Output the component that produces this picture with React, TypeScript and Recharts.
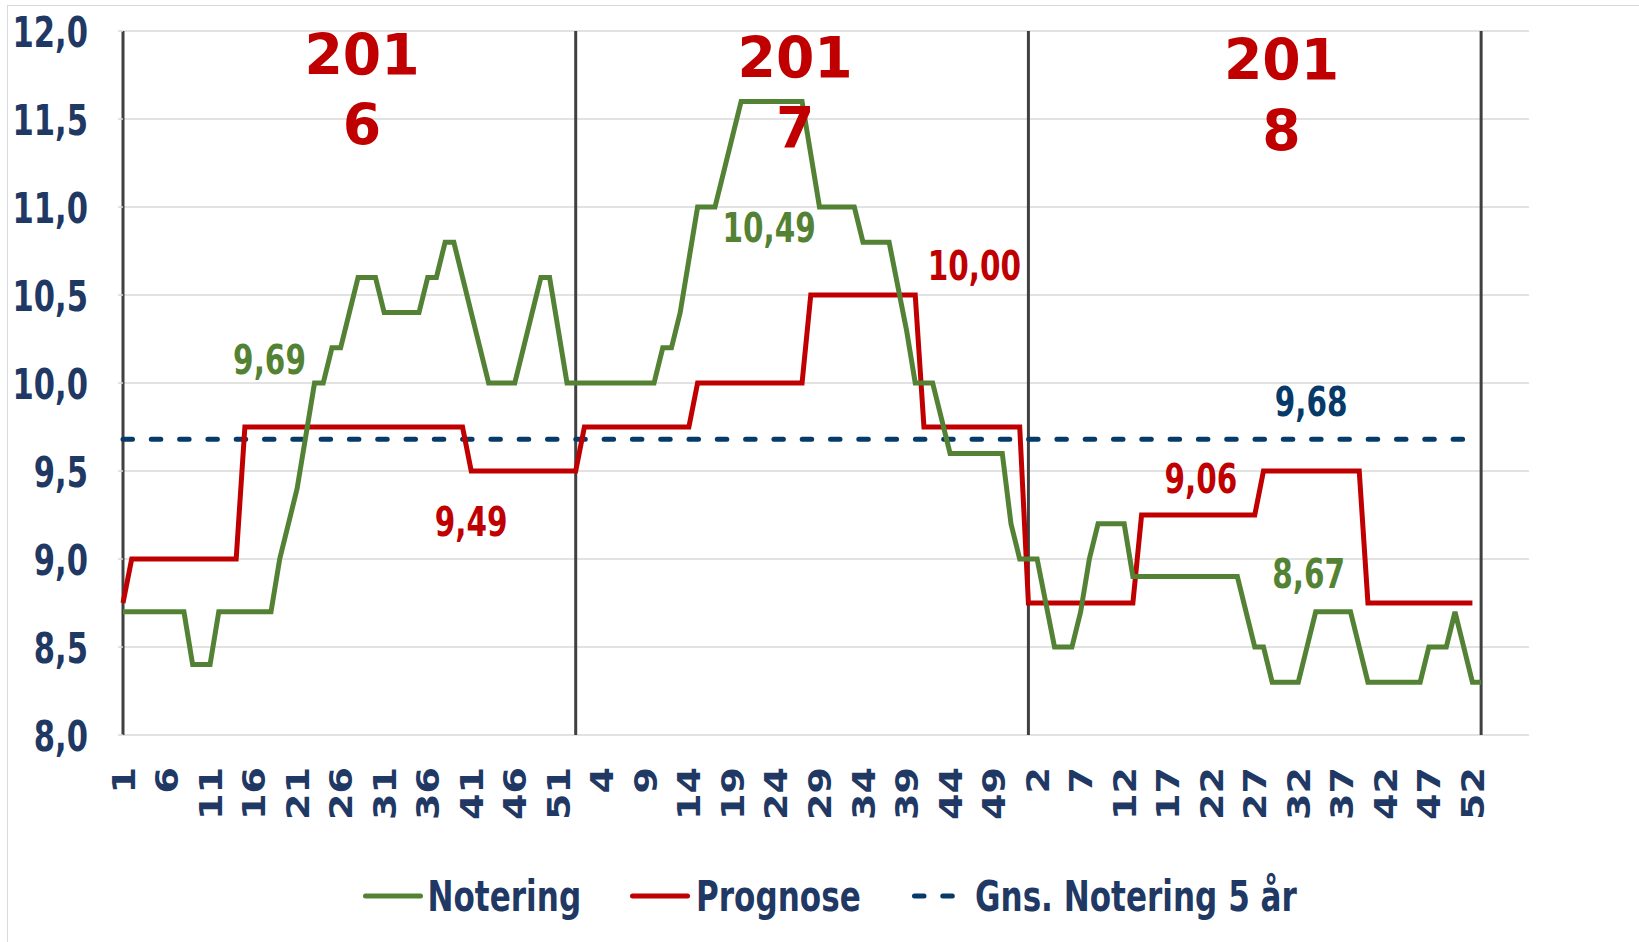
import React from 'react';
import {
  LineChart, Line, XAxis, YAxis, CartesianGrid, ReferenceLine, ReferenceDot, Legend,
} from 'recharts';

// ---- data ----
const notering2016 = [
  8.7, 8.7, 8.7, 8.7, 8.7, 8.7, 8.7, 8.7, 8.4, 8.4, 8.4, 8.7, 8.7, 8.7, 8.7, 8.7, 8.7, 8.7,
  9.0, 9.2, 9.4, 9.7, 10.0, 10.0, 10.2, 10.2, 10.4, 10.6, 10.6, 10.6, 10.4, 10.4, 10.4, 10.4, 10.4,
  10.6, 10.6, 10.8, 10.8, 10.6, 10.4, 10.2, 10.0, 10.0, 10.0, 10.0, 10.2, 10.4, 10.6, 10.6, 10.3, 10.0,
];
const notering2017 = [
  10.0, 10.0, 10.0, 10.0, 10.0, 10.0, 10.0, 10.0, 10.0, 10.0, 10.2, 10.2, 10.4, 10.7, 11.0, 11.0, 11.0,
  11.2, 11.4, 11.6, 11.6, 11.6, 11.6, 11.6, 11.6, 11.6, 11.6, 11.3, 11.0, 11.0, 11.0, 11.0, 11.0,
  10.8, 10.8, 10.8, 10.8, 10.55, 10.3, 10.0, 10.0, 10.0, 9.8, 9.6, 9.6, 9.6, 9.6, 9.6, 9.6, 9.6, 9.2, 9.0,
];
const notering2018 = [
  9.0, 9.0, 8.75, 8.5, 8.5, 8.5, 8.7, 9.0, 9.2, 9.2, 9.2, 9.2,
  8.9, 8.9, 8.9, 8.9, 8.9, 8.9, 8.9, 8.9, 8.9, 8.9, 8.9, 8.9, 8.9,
  8.7, 8.5, 8.5, 8.3, 8.3, 8.3, 8.3, 8.5, 8.7, 8.7, 8.7, 8.7, 8.7, 8.5,
  8.3, 8.3, 8.3, 8.3, 8.3, 8.3, 8.3, 8.5, 8.5, 8.5, 8.7, 8.5, 8.3, 8.3,
];
const prognose2016 = [
  8.75, 9.0, 9.0, 9.0, 9.0, 9.0, 9.0, 9.0, 9.0, 9.0, 9.0, 9.0, 9.0, 9.0,
  9.75, 9.75, 9.75, 9.75, 9.75, 9.75, 9.75, 9.75, 9.75, 9.75, 9.75, 9.75, 9.75,
  9.75, 9.75, 9.75, 9.75, 9.75, 9.75, 9.75, 9.75, 9.75, 9.75, 9.75, 9.75, 9.75,
  9.5, 9.5, 9.5, 9.5, 9.5, 9.5, 9.5, 9.5, 9.5, 9.5, 9.5, 9.5,
];
const prognose2017 = [
  9.5, 9.75, 9.75, 9.75, 9.75, 9.75, 9.75, 9.75, 9.75, 9.75, 9.75, 9.75, 9.75, 9.75,
  10.0, 10.0, 10.0, 10.0, 10.0, 10.0, 10.0, 10.0, 10.0, 10.0, 10.0, 10.0, 10.0,
  10.5, 10.5, 10.5, 10.5, 10.5, 10.5, 10.5, 10.5, 10.5, 10.5, 10.5, 10.5, 10.5,
  9.75, 9.75, 9.75, 9.75, 9.75, 9.75, 9.75, 9.75, 9.75, 9.75, 9.75, 9.75,
];
const prognose2018 = [
  8.75, 8.75, 8.75, 8.75, 8.75, 8.75, 8.75, 8.75, 8.75, 8.75, 8.75, 8.75, 8.75,
  9.25, 9.25, 9.25, 9.25, 9.25, 9.25, 9.25, 9.25, 9.25, 9.25, 9.25, 9.25, 9.25, 9.25,
  9.5, 9.5, 9.5, 9.5, 9.5, 9.5, 9.5, 9.5, 9.5, 9.5, 9.5, 9.5,
  8.75, 8.75, 8.75, 8.75, 8.75, 8.75, 8.75, 8.75, 8.75, 8.75, 8.75, 8.75, 8.75,
];
const gnsNotering5Aar = 9.68;

const weekTickLabels = [
  '1', '6', '11', '16', '21', '26', '31', '36', '41', '46', '51',
  '4', '9', '14', '19', '24', '29', '34', '39', '44', '49',
  '2', '7', '12', '17', '22', '27', '32', '37', '42', '47', '52',
];
const yTicks = [8, 8.5, 9, 9.5, 10, 10.5, 11, 11.5, 12];
const yearBoundaries = [0, 52, 104, 156];
const legendNames = ['Notering', 'Prognose', 'Gns. Notering 5 år'];

const years = [
  { top: '201', bottom: '6', x: 27.46, y1: 11.75, y2: 11.352 },
  { top: '201', bottom: '7', x: 77.2, y1: 11.733, y2: 11.335 },
  { top: '201', bottom: '8', x: 133.08, y1: 11.72, y2: 11.318 },
];

// ---- styles ----
const GREEN = '#548235';
const RED = '#C00000';
const NAVY = '#1F3864';
const DASH = '#053A69';
const FONT = 'DejaVu Sans';

const annotations = [
  { text: '9,69', x: 16.83, y: 10.05, color: GREEN },
  { text: '9,49', x: 39.98, y: 9.13, color: RED },
  { text: '10,49', x: 74.21, y: 10.8, color: GREEN },
  { text: '10,00', x: 97.79, y: 10.585, color: RED },
  { text: '9,68', x: 136.47, y: 9.81, color: DASH },
  { text: '9,06', x: 123.8, y: 9.373, color: RED },
  { text: '8,67', x: 136.19, y: 8.833, color: GREEN },
];

const notering = [...notering2016, ...notering2017, ...notering2018];
const prognose = [...prognose2016, ...prognose2017, ...prognose2018];
const rows = notering.map((v, i) => ({
  i,
  notering: v,
  prognose: i < prognose.length ? prognose[i] : null,
}));
const xTicks = weekTickLabels.map((_, k) => k * 5);

const YTick = (props: any) => {
  const { x, y, payload } = props;
  const label = Number(payload.value).toFixed(1).replace('.', ',');
  return (
    <text
      transform={`translate(${x},${y + 15.5}) scale(0.72,1)`}
      textAnchor="end"
      fontFamily={FONT}
      fontWeight="bold"
      fontSize={42.5}
      fill={NAVY}
    >
      {label}
    </text>
  );
};

const XTick = (props: any) => {
  const { x, y, payload } = props;
  const label = weekTickLabels[Math.round(payload.value / 5)] ?? '';
  return (
    <g transform={`translate(${x + 11.5},${y}) rotate(-90)`}>
      <text
        transform="scale(1.21,1)"
        textAnchor="end"
        fontFamily={FONT}
        fontWeight="bold"
        fontSize={31.5}
        fill={NAVY}
      >
        {label}
      </text>
    </g>
  );
};

const makeAnnot = (text: string, color: string, size: number, sx: number) => (p: any) => (
  <text
    transform={`translate(${p.cx},${p.cy}) scale(${sx},1)`}
    textAnchor="middle"
    fontFamily={FONT}
    fontWeight="bold"
    fontSize={size}
    fill={color}
  >
    {text}
  </text>
);

const LegendContent = () => {
  const ty = 56;
  const ly = 41;
  const txt = (x: number, s: string) => (
    <text
      transform={`translate(${x},${ty}) scale(0.74,1)`}
      fontFamily={FONT}
      fontWeight="bold"
      fontSize={42}
      fill={NAVY}
    >
      {s}
    </text>
  );
  return (
    <svg width={1639} height={75} style={{ display: 'block' }}>
      <line x1={365.5} x2={420.5} y1={ly} y2={ly} stroke={GREEN} strokeWidth={5} strokeLinecap="round" />
      {txt(427.5, legendNames[0])}
      <line x1={632.5} x2={687.5} y1={ly} y2={ly} stroke={RED} strokeWidth={5} strokeLinecap="round" />
      {txt(696, legendNames[1])}
      <line x1={914.5} x2={955} y1={ly} y2={ly} stroke={DASH} strokeWidth={5} strokeDasharray="9.5 18.8" strokeLinecap="round" />
      {txt(975, legendNames[2])}
    </svg>
  );
};

export default function App() {
  return (
    <div style={{ position: 'absolute', left: 0, top: 0, width: 1639, height: 942, background: '#fff', overflow: 'hidden' }}>
      <div
        style={{
          position: 'absolute', left: 7, top: 5, width: 1640, height: 940,
          borderTop: '1.5px solid #D9D9D9', borderLeft: '1.5px solid #D9D9D9',
        }}
      />
      <div style={{ position: 'absolute', left: 0, top: 0 }}>
        <LineChart
          width={1639}
          height={942}
          data={rows}
          margin={{ top: 31, right: 110, left: 23, bottom: 107 }}
        >
          <CartesianGrid vertical={false} stroke="#D9D9D9" strokeWidth={1.5} />
          <XAxis
            dataKey="i"
            type="number"
            domain={[0, 161.5]}
            ticks={xTicks}
            interval={0}
            height={100}
            axisLine={false}
            tickLine={false}
            tickSize={0}
            tickMargin={32}
            tick={<XTick />}
          />
          <YAxis
            domain={[8, 12]}
            ticks={yTicks}
            interval={0}
            width={100}
            axisLine={false}
            tickLine={{ stroke: '#D9D9D9', strokeWidth: 1.5 }}
            tickSize={5}
            tickMargin={30}
            tick={<YTick />}
          />
          {yearBoundaries.map((b) => (
            <ReferenceLine key={b} x={b} stroke="#404040" strokeWidth={3} ifOverflow="extendDomain" />
          ))}
          <ReferenceLine
            segment={[{ x: 0, y: gnsNotering5Aar }, { x: 155, y: gnsNotering5Aar }]}
            stroke={DASH}
            strokeWidth={5}
            strokeDasharray="9.5 18.8"
            strokeLinecap="round"
          />
          <Line
            type="linear"
            dataKey="prognose"
            name={legendNames[1]}
            stroke={RED}
            strokeWidth={5}
            dot={false}
            activeDot={false}
            isAnimationActive={false}
          />
          <Line
            type="linear"
            dataKey="notering"
            name={legendNames[0]}
            stroke={GREEN}
            strokeWidth={5}
            dot={false}
            activeDot={false}
            isAnimationActive={false}
          />
          {annotations.map((a) => (
            <ReferenceDot key={a.text} x={a.x} y={a.y} r={0} shape={makeAnnot(a.text, a.color, 41, 0.72)} />
          ))}
          {years.map((yr) => (
            <ReferenceDot key={yr.bottom + 'a'} x={yr.x} y={yr.y1} r={0} shape={makeAnnot(yr.top, RED, 57.5, 0.96)} />
          ))}
          {years.map((yr) => (
            <ReferenceDot key={yr.bottom + 'b'} x={yr.x} y={yr.y2} r={0} shape={makeAnnot(yr.bottom, RED, 57.5, 0.96)} />
          ))}
          <Legend
            layout="horizontal"
            verticalAlign="middle"
            align="center"
            wrapperStyle={{ left: 0, top: 855, width: 1639, height: 75 }}
            content={<LegendContent />}
          />
        </LineChart>
      </div>
    </div>
  );
}
